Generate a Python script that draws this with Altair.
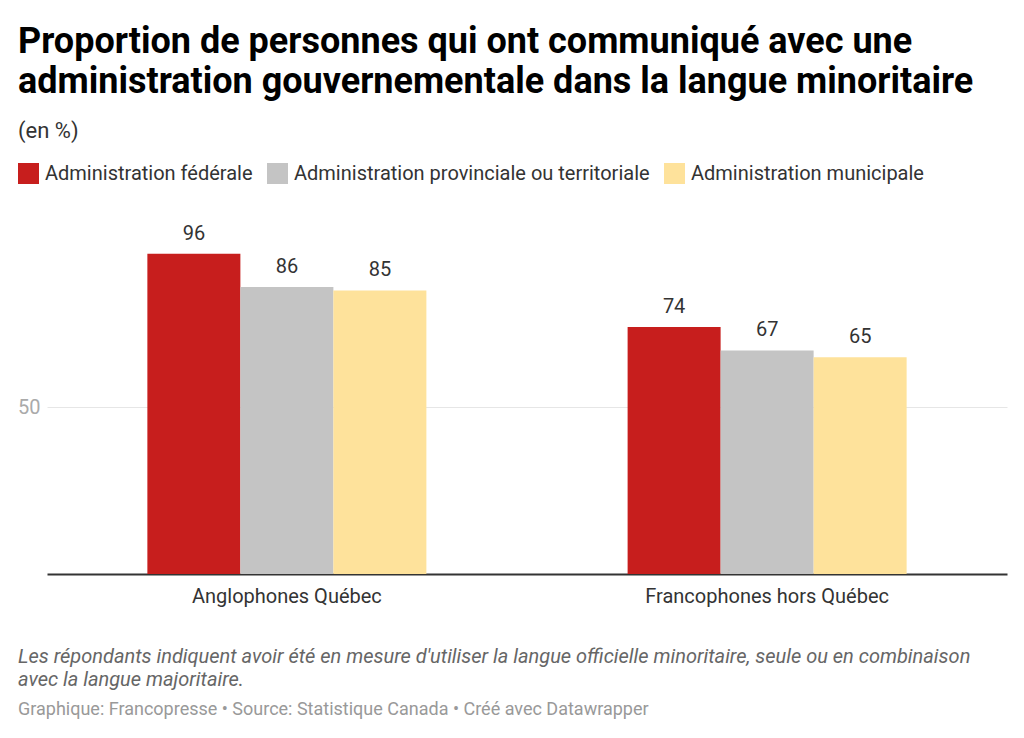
import altair as alt
import pandas as pd

groups = ["Anglophones Québec", "Francophones hors Québec"]
series = ["Administration fédérale", "Administration provinciale ou territoriale", "Administration municipale"]
values = {
    "Administration fédérale": [96, 74],
    "Administration provinciale ou territoriale": [86, 67],
    "Administration municipale": [85, 65],
}
colors = ["#c71e1d", "#c4c4c4", "#fee29b"]
y_ticks = [50]

title_lines = ["Proportion de personnes qui ont communiqué avec une",
               "administration gouvernementale dans la langue minoritaire"]
subtitle = "(en %)"
note_lines = ["Les répondants indiquent avoir été en mesure d'utiliser la langue officielle minoritaire, seule ou en combinaison",
              "avec la langue majoritaire."]
source_line = "Graphique: Francopresse • Source: Statistique Canada • Créé avec Datawrapper"

rows = []
for s in series:
    for g, v in zip(groups, values[s]):
        rows.append({"groupe": g, "serie": s, "valeur": v})
df = pd.DataFrame(rows)

FONT = "Roboto"
W, H = 960, 367
LEFT, TOP = 47, 207

x_enc = alt.X("groupe:N", sort=groups, title=None,
              scale=alt.Scale(paddingInner=0.419, paddingOuter=0.209),
              axis=alt.Axis(labelAngle=0, labelFontSize=20, labelColor="#333333", labelFont=FONT,
                            labelPadding=12, labelLimit=400, ticks=False, domainColor="#333333",
                            domainWidth=2))
xo_enc = alt.XOffset("serie:N", sort=series,
                     scale=alt.Scale(paddingInner=0, paddingOuter=0))
y_enc = alt.Y("valeur:Q", title=None,
              scale=alt.Scale(domain=[0, 110], nice=False),
              axis=alt.Axis(values=y_ticks, grid=True, gridColor="#e6e6e6", domain=False, ticks=False,
                            labelFontSize=20, labelColor="#aaaaaa", labelFont=FONT, labelPadding=7))

base = alt.Chart(df)
bars = base.mark_bar().encode(
    x=x_enc, xOffset=xo_enc, y=y_enc,
    color=alt.Color("serie:N", sort=series, scale=alt.Scale(domain=series, range=colors),
                    legend=alt.Legend(title=None, orient="none", legendX=18 - LEFT, legendY=163 - TOP,
                                      direction="horizontal", symbolType="square", symbolSize=441,
                                      symbolStrokeWidth=0, labelFontSize=20, labelColor="#333333",
                                      labelFont=FONT, labelOffset=6, columnPadding=14, labelLimit=500)),
)
labels = base.mark_text(baseline="alphabetic", dy=-14, fontSize=20, color="#333333", font=FONT).encode(
    x=x_enc, xOffset=xo_enc, y=y_enc, text=alt.Text("valeur:Q"),
)

notes_df = pd.DataFrame({"t": note_lines, "y": [663 - TOP, 686 - TOP]})
notes = alt.Chart(notes_df).mark_text(align="left", baseline="alphabetic", fontSize=20, fontStyle="italic",
                                      color="#666666", font=FONT).encode(
    x=alt.value(18 - LEFT), y=alt.Y("y:Q", scale=None), text="t:N")
src_df = pd.DataFrame({"t": [source_line], "y": [715 - TOP]})
src = alt.Chart(src_df).mark_text(align="left", baseline="alphabetic", fontSize=18,
                                  color="#999999", font=FONT).encode(
    x=alt.value(18 - LEFT), y=alt.Y("y:Q", scale=None), text="t:N")

chart = alt.layer(bars, labels, notes, src).properties(
    width=W, height=H,
    autosize=alt.AutoSizeParams(type="none"),
    padding={"left": LEFT, "top": TOP, "right": 1024 - LEFT - W, "bottom": 738 - TOP - H},
    background="white",
    title=alt.TitleParams(text=title_lines, subtitle=subtitle, anchor="start", frame="group",
                          dx=18 - LEFT, fontSize=36, fontWeight="bold", font=FONT, color="#000000",
                          lineHeight=40, subtitleFontSize=22, subtitleFont=FONT, subtitleColor="#333333",
                          subtitlePadding=20, offset=20),
).configure_view(stroke="transparent", strokeWidth=0)

chart.save("out.html", embed_options={"renderer": "svg", "actions": False})
